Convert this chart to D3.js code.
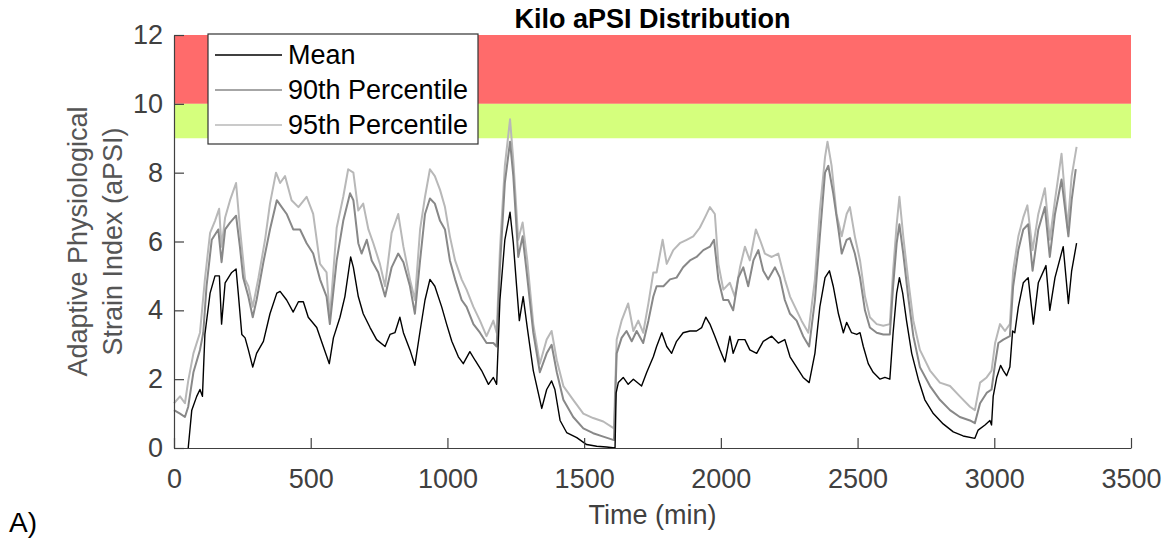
<!DOCTYPE html>
<html>
<head>
<meta charset="utf-8">
<script src="https://cdn.jsdelivr.net/npm/d3@7"></script>
<style>
  body { margin: 0; background: #fff; }
  text { font-family: "Liberation Sans", Arial, sans-serif; }
</style>
</head>
<body>
<div id="chart"></div>
<script>
// [time (min), aPSI]
let meanSeries = [
  [52,0],[65,1.1],[83,1.5],[95,1.7],[104,1.5],[113,3.3],[132,4.5],[150,5.0],[166,5.0],[174,3.6],
  [187,4.8],[211,5.1],[227,5.2],[235,4.5],[248,3.3],[260,3.2],[272,2.85],[288,2.35],[302,2.75],[327,3.1],
  [351,3.9],[376,4.5],[388,4.55],[412,4.3],[436,3.95],[455,4.25],[473,4.25],[491,3.8],[522,3.5],[546,2.95],
  [568,2.45],[583,3.2],[607,3.8],[625,4.4],[646,5.55],[656,5.25],[674,4.4],[692,3.9],[717,3.5],[741,3.15],
  [772,2.95],[790,3.3],[808,3.35],[826,3.8],[839,3.35],[863,2.85],[881,2.4],[900,3.4],[918,4.3],[936,4.9],
  [954,4.7],[979,4.1],[997,3.6],[1016,3.1],[1040,2.65],[1058,2.45],[1082,2.8],[1101,2.55],[1125,2.25],[1150,1.85],
  [1168,2.05],[1180,1.85],[1192,4.3],[1210,6.05],[1229,6.85],[1241,5.95],[1253,4.7],[1263,3.7],[1277,4.4],[1292,3.5],
  [1314,2.25],[1345,1.15],[1363,1.7],[1381,1.95],[1393,1.7],[1412,0.8],[1436,0.45],[1473,0.3],[1509,0.1],[1546,0.05],
  [1582,0.03],[1613,0],[1617,1.6],[1625,1.9],[1643,2.05],[1661,1.85],[1680,2.0],[1710,1.8],[1729,2.2],[1753,2.65],
  [1765,2.95],[1784,3.35],[1802,2.95],[1820,2.75],[1838,3.1],[1862,3.35],[1887,3.4],[1911,3.4],[1930,3.5],[1945,3.8],
  [1960,3.6],[1978,3.25],[1997,2.85],[2015,2.5],[2033,3.25],[2045,2.75],[2064,3.15],[2088,3.15],[2106,2.85],[2131,2.75],
  [2155,3.1],[2186,3.25],[2210,3.05],[2234,3.15],[2253,2.65],[2277,2.35],[2301,2.05],[2323,1.9],[2344,2.75],[2362,4.1],
  [2381,4.95],[2397,5.15],[2411,4.7],[2430,3.9],[2448,3.35],[2460,3.65],[2478,3.35],[2497,3.3],[2509,3.35],[2521,2.95],
  [2539,2.45],[2557,2.2],[2582,2.0],[2600,2.05],[2618,2.0],[2630,3.35],[2643,4.5],[2653,4.95],[2665,4.5],[2679,3.7],
  [2698,2.75],[2722,2.0],[2746,1.4],[2777,1.0],[2813,0.7],[2850,0.47],[2886,0.35],[2929,0.28],[2941,0.52],[2966,0.67],
  [2984,0.8],[2990,0.67],[2996,1.5],[3009,2.05],[3023,2.4],[3033,2.25],[3045,2.1],[3057,2.35],[3067,3.4],[3075,3.35],
  [3088,4.1],[3106,4.8],[3124,4.95],[3143,3.6],[3161,4.8],[3189,5.3],[3203,4.0],[3222,4.95],[3252,5.85],[3271,4.2],
  [3283,5.15],[3301,5.95]
];

let p90Series = [
  [0,1.1],[22,1.0],[40,0.9],[52,1.2],[71,2.2],[95,2.85],[107,3.35],[119,4.7],[138,6.05],[162,6.35],
  [174,5.4],[187,6.35],[205,6.55],[227,6.75],[241,5.85],[253,4.95],[272,4.4],[288,3.8],[302,4.3],[327,5.4],
  [351,6.35],[376,7.2],[394,7.0],[412,6.8],[436,6.35],[461,6.35],[485,5.95],[509,5.65],[534,4.9],[558,4.4],
  [570,3.6],[595,5.45],[619,6.6],[644,7.4],[656,7.2],[674,5.95],[686,5.65],[705,6.05],[723,5.45],[747,5.1],
  [772,4.4],[796,5.25],[820,5.65],[839,5.4],[863,4.7],[881,3.9],[900,5.45],[918,6.8],[936,7.25],[954,7.1],
  [973,6.6],[991,6.35],[1009,5.45],[1028,4.9],[1052,4.3],[1070,4.1],[1095,3.6],[1119,3.35],[1143,3.05],[1168,3.05],
  [1180,2.95],[1192,5.25],[1210,7.7],[1229,8.9],[1241,7.9],[1259,5.55],[1275,6.15],[1290,5.1],[1314,3.35],[1338,2.2],
  [1363,2.75],[1381,3.0],[1400,2.2],[1424,1.4],[1460,0.9],[1497,0.57],[1533,0.43],[1570,0.33],[1609,0.23],[1619,2.75],
  [1637,3.2],[1655,3.4],[1674,3.1],[1692,3.4],[1716,3.05],[1735,3.7],[1753,4.4],[1765,4.7],[1790,4.7],[1814,4.9],
  [1838,4.95],[1862,5.25],[1887,5.45],[1911,5.55],[1936,5.75],[1960,5.85],[1975,6.05],[1991,4.9],[2009,4.3],[2027,4.3],
  [2045,4.0],[2064,4.95],[2082,5.25],[2100,4.7],[2119,5.45],[2137,5.75],[2155,5.15],[2173,4.9],[2198,5.25],[2216,4.95],
  [2234,4.3],[2253,3.9],[2277,3.7],[2301,3.25],[2323,2.95],[2344,4.3],[2362,6.15],[2381,8.0],[2393,8.2],[2411,7.4],
  [2430,6.35],[2442,5.65],[2460,6.05],[2472,6.1],[2490,5.65],[2509,4.95],[2527,4.0],[2545,3.5],[2570,3.35],[2594,3.3],
  [2618,3.3],[2630,4.7],[2643,5.95],[2653,6.5],[2667,5.65],[2685,4.4],[2704,3.25],[2728,2.35],[2765,1.8],[2801,1.4],
  [2838,1.1],[2874,0.9],[2911,0.8],[2929,0.72],[2948,1.3],[2972,1.6],[2990,1.7],[3003,2.45],[3015,3.05],[3033,3.15],
  [3057,3.25],[3069,4.7],[3088,5.75],[3106,6.35],[3124,6.5],[3140,5.15],[3161,6.35],[3185,7.0],[3203,5.55],[3222,6.8],
  [3246,7.8],[3271,6.15],[3283,7.2],[3298,8.1]
];

let p95Series = [
  [0,1.3],[22,1.5],[40,1.3],[52,1.95],[71,2.75],[95,3.35],[113,4.9],[132,6.25],[150,6.6],[165,6.95],
  [174,5.85],[187,6.7],[205,7.2],[227,7.7],[241,6.4],[260,4.9],[272,4.7],[288,4.1],[309,4.95],[333,6.05],
  [351,7.1],[373,8.0],[388,7.7],[406,7.9],[430,7.2],[455,7.0],[485,7.3],[509,6.8],[534,5.35],[558,5.1],
  [570,3.8],[595,6.4],[619,7.3],[637,8.1],[656,8.0],[674,6.9],[692,7.1],[711,6.35],[729,5.95],[753,5.35],
  [772,4.7],[796,6.25],[820,6.8],[839,5.85],[863,4.9],[881,4.3],[900,6.35],[918,7.3],[936,8.1],[954,7.9],
  [973,7.5],[991,7.0],[1009,6.15],[1028,5.45],[1052,4.9],[1070,4.6],[1095,4.1],[1119,3.7],[1143,3.25],[1168,3.7],
  [1180,3.35],[1192,5.75],[1210,8.2],[1229,9.55],[1241,8.35],[1259,6.05],[1275,6.55],[1292,5.45],[1314,3.6],[1338,2.45],
  [1363,3.15],[1381,3.4],[1400,2.55],[1424,1.8],[1460,1.4],[1497,1.0],[1533,0.87],[1570,0.77],[1609,0.57],[1619,3.15],
  [1637,3.7],[1661,4.2],[1680,3.4],[1698,3.7],[1716,3.35],[1735,4.2],[1753,5.1],[1765,5.1],[1787,6.05],[1802,5.35],
  [1826,5.75],[1850,5.95],[1875,6.05],[1899,6.15],[1923,6.4],[1942,6.7],[1960,7.0],[1978,6.8],[1991,5.35],[2009,4.6],
  [2033,4.8],[2051,4.4],[2070,5.25],[2088,5.85],[2106,5.45],[2128,6.35],[2143,6.05],[2161,5.65],[2186,5.55],[2210,5.65],
  [2234,4.9],[2253,4.4],[2271,4.1],[2295,3.7],[2320,3.35],[2344,4.9],[2362,6.9],[2381,8.45],[2390,8.9],[2405,8.2],
  [2423,6.8],[2442,6.15],[2460,6.8],[2472,7.0],[2490,6.15],[2509,5.45],[2527,4.4],[2545,3.8],[2570,3.6],[2594,3.55],
  [2618,3.6],[2630,5.15],[2643,6.5],[2653,7.3],[2667,6.15],[2685,4.9],[2704,3.7],[2728,2.85],[2765,2.25],[2801,1.9],
  [2838,1.8],[2874,1.5],[2911,1.2],[2929,1.1],[2948,1.9],[2972,2.05],[2990,2.25],[3003,3.05],[3021,3.6],[3039,3.4],
  [3057,3.6],[3069,5.15],[3088,6.15],[3106,6.7],[3121,7.05],[3140,5.75],[3161,6.8],[3185,7.55],[3203,6.05],[3222,7.2],
  [3246,8.55],[3268,6.4],[3283,7.9],[3301,8.75]
];

// threshold bands [from, to]
let bandRanges = [[10, 12], [9, 10]];
let bandColors = ['#ff6b6b', '#d5ff7d'];

let legendNames = ['Mean', '90th Percentile', '95th Percentile'];
let lineColors = ['#000000', '#888888', '#b8b8b8'];

let xTicks = [0, 500, 1000, 1500, 2000, 2500, 3000, 3500];
let yTicks = [0, 2, 4, 6, 8, 10, 12];

let width = 1167;
let height = 539;
let fontSize = 27;

let margin = {
    top: 35,
    right: 36,
    bottom: 91,
    left: 174
}

let svg = d3.select('#chart').append('svg')
        .attr('width', width)
        .attr('height', height);

let x = d3.scaleLinear()
        .domain([0, 3500])
        .range([margin.left, width - margin.right]);

let y = d3.scaleLinear()
        .domain([0, 12])
        .range([height - margin.bottom, margin.top]);

// colored bands
svg.selectAll('rect.band')
    .data(bandRanges)
    .join('rect')
        .attr('class', 'band')
        .attr('x', x(0))
        .attr('width', x(3500) - x(0))
        .attr('y', d => y(d[1]))
        .attr('height', d => y(d[0]) - y(d[1]))
        .attr('fill', (d, i) => bandColors[i]);

let line = d3.line()
        .x(d => x(d[0]))
        .y(d => y(d[1]));

// lightest first so the mean sits on top
let allSeries = [meanSeries, p90Series, p95Series];
[2, 1, 0].forEach(i => {
    svg.append('path')
        .datum(allSeries[i])
        .attr('fill', 'none')
        .attr('stroke', lineColors[i])
        .attr('stroke-width', i === 0 ? 1.4 : 2)
        .attr('stroke-linejoin', 'round')
        .attr('d', line);
});

let axisColor = '#404040';

let xAxis = svg.append('g')
    .attr('transform', `translate(0,${y(0)})`)
    .call(d3.axisBottom(x).tickValues(xTicks).tickFormat(d3.format('d'))
        .tickSize(-10).tickSizeOuter(0).tickPadding(21));

let yAxis = svg.append('g')
    .attr('transform', `translate(${x(0)},0)`)
    .call(d3.axisLeft(y).tickValues(yTicks).tickFormat(d3.format('d'))
        .tickSize(-10).tickSizeOuter(0).tickPadding(11));

[xAxis, yAxis].forEach(g => {
    g.selectAll('path, line').attr('stroke', axisColor).attr('stroke-width', 1.2);
    g.selectAll('text')
        .attr('fill', axisColor)
        .style('font-size', fontSize + 'px')
        .style('font-family', '"Liberation Sans", Arial, sans-serif');
});

// title
svg.append('text')
    .attr('x', (x(0) + x(3500)) / 2)
    .attr('y', 28)
    .attr('text-anchor', 'middle')
    .attr('font-weight', 'bold')
    .attr('font-size', fontSize)
    .attr('fill', '#000')
    .text('Kilo aPSI Distribution');

// axis labels
svg.append('text')
    .attr('x', (x(0) + x(3500)) / 2)
    .attr('y', 524)
    .attr('text-anchor', 'middle')
    .attr('font-size', fontSize)
    .attr('fill', axisColor)
    .text('Time (min)');

let yLabel = svg.append('text')
    .attr('transform', `translate(0,${(y(0) + y(12)) / 2}) rotate(-90)`)
    .attr('text-anchor', 'middle')
    .attr('font-size', fontSize)
    .attr('fill', '#555');

yLabel.append('tspan').attr('x', 0).attr('y', 87).text('Adaptive Physiological');
yLabel.append('tspan').attr('x', 0).attr('y', 122).text('Strain Index (aPSI)');

svg.append('text')
    .attr('x', 9)
    .attr('y', 532)
    .attr('font-size', 28)
    .attr('fill', '#000')
    .text('A)');

// legend
let legend = svg.append('g')
    .attr('transform', 'translate(208,34)');

legend.append('rect')
    .attr('width', 270)
    .attr('height', 110)
    .attr('fill', '#fff')
    .attr('stroke', '#333')
    .attr('stroke-width', 1.2);

let item = legend.selectAll('g.item')
    .data(legendNames)
    .join('g')
        .attr('class', 'item')
        .attr('transform', (d, i) => `translate(0,${21 + i * 35})`);

item.append('line')
    .attr('x1', 7)
    .attr('x2', 74)
    .attr('stroke', (d, i) => lineColors[i])
    .attr('stroke-width', 1.5);

item.append('text')
    .attr('x', 80)
    .attr('dy', '0.35em')
    .attr('font-size', fontSize)
    .attr('fill', '#000')
    .text(d => d);
</script>
</body>
</html>
